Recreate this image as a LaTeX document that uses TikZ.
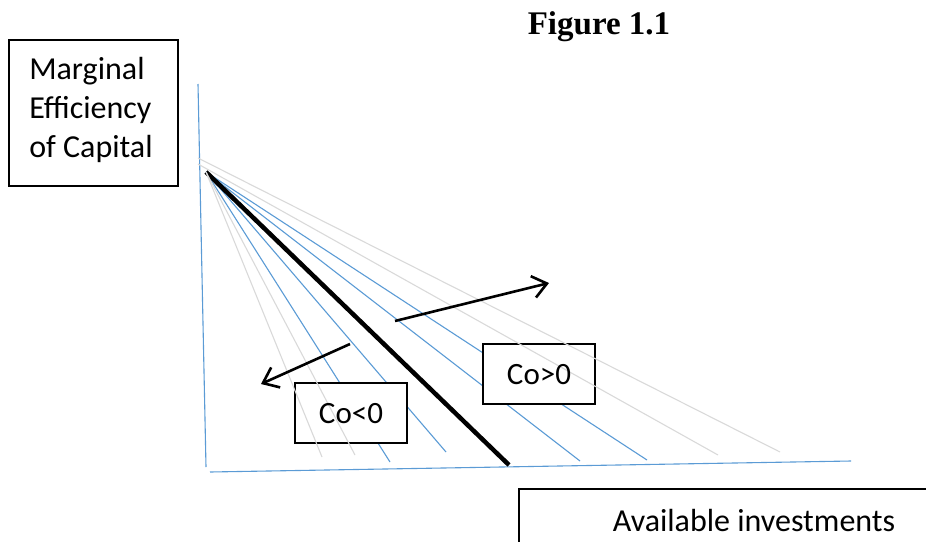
\documentclass[tikz,border=0pt]{standalone}
\usepackage{fontspec}
\setmainfont{Carlito}
\newfontfamily\titlefont{Liberation Serif}
\usetikzlibrary{arrows.meta}
\definecolor{axisblue}{HTML}{5B9BD5}
\definecolor{fangray}{HTML}{D9D9D9}
\begin{document}
\begin{tikzpicture}[x=1pt,y=-1pt,
  bluel/.style={draw=axisblue, line width=1.1pt},
  grayl/.style={draw=fangray, line width=1.1pt},
  lbox/.style={draw, line width=1.5pt, fill=white, rectangle, inner sep=0pt},
  bigarrow/.style={-{Straight Barb[length=14pt,width=22pt]}, line width=2.6pt},
  lbl/.style={font=\fontsize{32}{39}\selectfont}]
\useasboundingbox (0,0) rectangle (926,541);
% axes
\coordinate (ytop) at (198,84);
\coordinate (ybot) at (206,467);
\coordinate (xl) at (210,472);
\coordinate (xr) at (851,461);
\draw[bluel] (ytop) -- (ybot);
\draw[bluel] (xl) -- (xr);
% fan of lines
\coordinate (F) at (206,172);
\coordinate (g1s) at (198,158);
\coordinate (g2s) at (198,164);
\coordinate (g1e) at (780,452);
\coordinate (g2e) at (718,455);
\coordinate (b1e) at (647,460);
\coordinate (b2e) at (580,461);
\coordinate (ke) at (509,465);
\coordinate (b3e) at (446,452);
\coordinate (b4e) at (390,462);
\coordinate (g3e) at (355,455);
\coordinate (g4e) at (322,457);
\draw[bluel] (F) -- (b1e);
\draw[bluel] (F) -- (b2e);
\draw[bluel] (F) -- (b3e);
\draw[bluel] (F) -- (b4e);
\draw[line width=4.5pt] (F) -- (ke);
% boxes
\node[lbox, minimum width=112pt, minimum height=60pt] (colt) at (351,413) {};
\node[lbox, minimum width=112pt, minimum height=60pt] (cogt) at (539,374) {};
\draw[grayl] (g1s) -- (g1e);
\draw[grayl] (g2s) -- (g2e);
\draw[grayl] (F) -- (g3e);
\draw[grayl] (F) -- (g4e);
\node[font=\fontsize{31}{36}\selectfont] (coltt) at (351,414) {Co<0};
\node[font=\fontsize{31}{36}\selectfont] (cogtt) at (539,375) {Co>0};
% arrows
\coordinate (ra) at (395,321);
\coordinate (rb) at (549,283);
\coordinate (la) at (350,344);
\coordinate (lb) at (261,384);
\draw[bigarrow] (ra) -- (rb);
\draw[bigarrow] (la) -- (lb);
% labels
\node[font=\titlefont\bfseries\fontsize{33}{38}\selectfont] (title) at (599,27) {Figure 1.1};
\node[draw, line width=1.2pt, minimum width=169pt, minimum height=146pt] (mecbox) at (93.5,113) {};
\node[lbl, align=left] (mec) at (91,110) {Marginal\\Efficiency\\of Capital};
\node[draw, line width=1.2pt, minimum width=441pt, minimum height=81pt] (availbox) at (739.5,529.5) {};
\node[lbl] (avail) at (754,521) {Available investments};
\end{tikzpicture}
\end{document}
